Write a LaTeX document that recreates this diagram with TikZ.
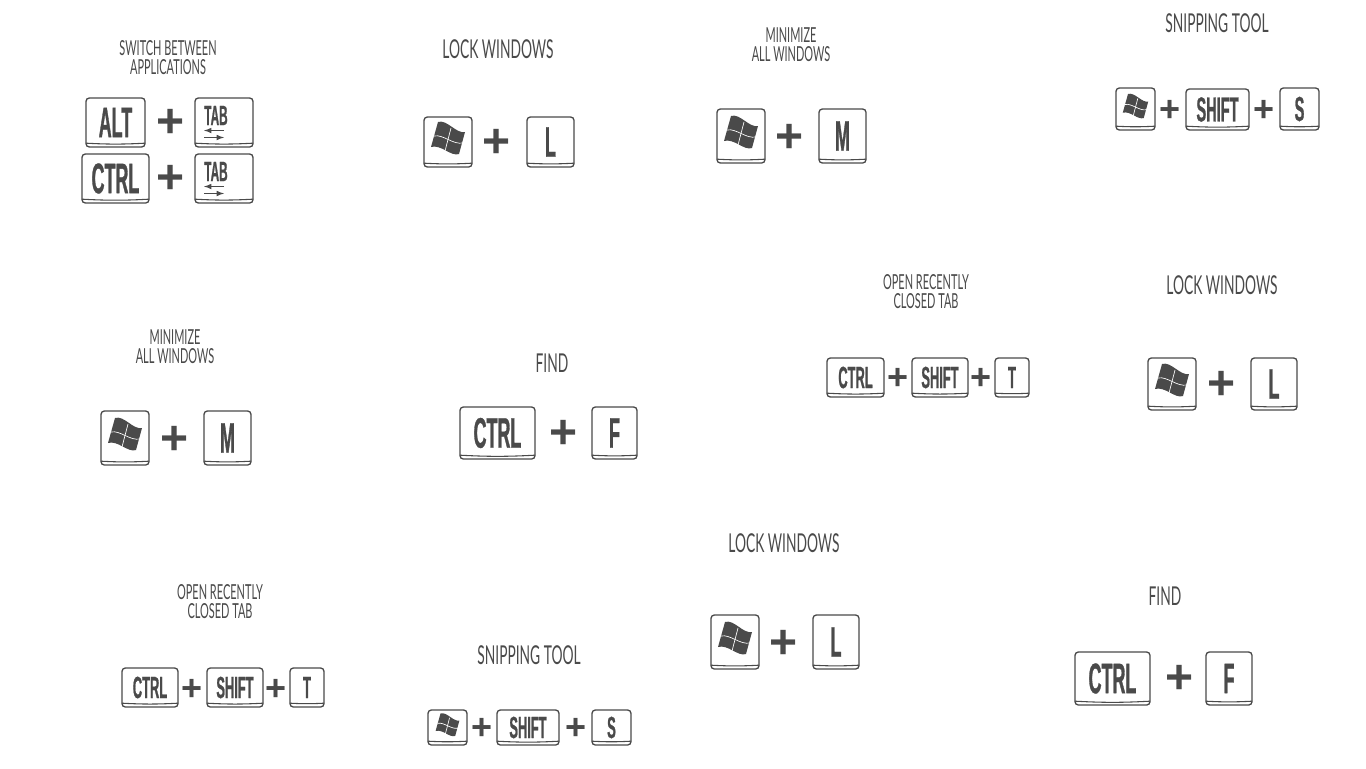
\documentclass[tikz,border=0pt]{standalone}
\usepackage{fontspec}
\usetikzlibrary{arrows}
\setmainfont{Liberation Sans}
\newfontfamily\titlefont[FakeStretch=0.53]{Lato}
\newfontfamily\capfont[FakeStretch=0.42,FakeBold=0.7]{Liberation Sans Bold}
\definecolor{keyink}{HTML}{4A4A4A}

% name, left, top, right, bottom, text style, text
\newcommand{\keycap}[7]{
  \pgfmathsetmacro{\kw}{(#4-#2)*0.75}
  \pgfmathsetmacro{\kh}{(#5-#3)*0.75}
  \node[keybox,#6,minimum width=\kw pt,minimum height=\kh pt](#1) at ({(#2+#4)/2},{(#3+#5)/2}){#7};
  \draw[lipline]($(#1.south west)+(0.5,-4.5)$) to[bend right=3]($(#1.south east)+(-0.5,-4.5)$);
}
\tikzset{
  winlogo/.pic={
    \fill[keyink](-10,-20) .. controls (-1,-23) and (8,-8) .. (17,-10) -- (11,12) .. controls (3,15) and (-7,2) .. (-17,5) -- cycle;
    \draw[white,line width=0.5pt](-14,-6) .. controls (-5,-8) and (5,3) .. (15,1);
    \draw[white,line width=0.5pt](3,-14) -- (-3,9);
  },
  tabmark/.pic={
    \node[font=\capfont\fontsize{21}{21}\selectfont,text=keyink,inner sep=0pt] (tabword) at (-8,-7){TAB};
    \draw[keyink,line width=0.9pt,-latex](0,8) -- (-20,8);
    \draw[keyink,line width=0.9pt,-latex](-20,15) -- (0,15);
  }
}
\usetikzlibrary{calc}

\begin{document}
\begin{tikzpicture}[x=0.75pt,y=-0.75pt]
\tikzstyle{keybox} = [draw=keyink,line width=1pt,rounded corners=2.5pt,inner sep=0pt,text=keyink]
\tikzstyle{lipline} = [draw=keyink,line width=0.8pt]
\tikzstyle{bigcap} = [font=\capfont\fontsize{32}{32}\selectfont]
\tikzstyle{midcap} = [font=\capfont\fontsize{26}{26}\selectfont]
\tikzstyle{smallcap} = [font=\capfont\fontsize{23}{23}\selectfont]
\tikzstyle{plusbig} = [font=\bfseries\fontsize{36}{36}\selectfont,text=keyink,inner sep=0pt]
\tikzstyle{plussmall} = [font=\bfseries\fontsize{27}{27}\selectfont,text=keyink,inner sep=0pt]
\tikzstyle{titlebig} = [font=\titlefont\fontsize{19.5}{21}\selectfont,text=keyink,align=center,inner sep=0pt]
\tikzstyle{titlesmall} = [font=\titlefont\fontsize{15.5}{14.2}\selectfont,text=keyink,align=center,inner sep=0pt]
\useasboundingbox[fill=white](0,0) rectangle (1366,768);

% top row
\node[titlesmall](t1) at (168,58){SWITCH BETWEEN\\APPLICATIONS};
\keycap{alt1}{86}{98}{145}{147}{bigcap}{ALT}
\node[plusbig](p1) at (171,123){+};
\keycap{tab1}{195}{98}{253}{147}{bigcap}{}
\pic at (tab1) {tabmark};
\keycap{ctrl1}{82}{154}{149}{203}{bigcap}{CTRL}
\node[plusbig](p2) at (171,179){+};
\keycap{tab2}{195}{154}{253}{203}{bigcap}{}
\pic at (tab2) {tabmark};

\node[titlebig](t2) at (498,49){LOCK WINDOWS};
\keycap{win2}{424}{117}{472}{167}{bigcap}{}
\pic at (win2) {winlogo};
\node[plusbig](p3) at (497,143){+};
\keycap{l2}{527}{117}{574}{167}{bigcap}{L}

\node[titlesmall](t3) at (791,44.5){MINIMIZE\\ALL WINDOWS};
\keycap{win3}{717}{109}{765}{163}{bigcap}{}
\pic at (win3) {winlogo};
\node[plusbig](p4) at (790,138){+};
\keycap{m3}{819}{109}{866}{163}{bigcap}{M}

\node[titlebig](t4) at (1217,23){SNIPPING TOOL};
\keycap{win4}{1116}{88}{1155}{130}{midcap}{}
\pic[scale=0.75] at (win4) {winlogo};
\node[plussmall](p5) at (1170,111){+};
\keycap{shift4}{1186}{89}{1249}{130}{midcap}{SHIFT}
\node[plussmall](p6) at (1264,111){+};
\keycap{s4}{1280}{88}{1319}{130}{midcap}{S}

% middle row
\node[titlesmall](t5) at (175,346.5){MINIMIZE\\ALL WINDOWS};
\keycap{win5}{101}{411}{149}{465}{bigcap}{}
\pic at (win5) {winlogo};
\node[plusbig](p7) at (175,440){+};
\keycap{m5}{204}{411}{251}{465}{bigcap}{M}

\node[titlebig](t6) at (552,363){FIND};
\keycap{ctrl6}{460}{407}{535}{459}{bigcap}{CTRL}
\node[plusbig](p8) at (564,434){+};
\keycap{f6}{592}{407}{637}{459}{bigcap}{F}

\node[titlesmall](t7) at (926,291.5){OPEN RECENTLY\\CLOSED TAB};
\keycap{ctrl7}{827}{358}{884}{397}{smallcap}{CTRL}
\node[plussmall](p9) at (898,379){+};
\keycap{shift7}{912}{358}{968}{397}{smallcap}{SHIFT}
\node[plussmall](p10) at (981,379){+};
\keycap{t7}{995}{358}{1029}{397}{smallcap}{T}

\node[titlebig](t8) at (1222,285){LOCK WINDOWS};
\keycap{win8}{1148}{358}{1196}{410}{bigcap}{}
\pic at (win8) {winlogo};
\node[plusbig](p11) at (1221,385){+};
\keycap{l8}{1251}{358}{1297}{410}{bigcap}{L}

% bottom row
\node[titlesmall](t9) at (220,601.5){OPEN RECENTLY\\CLOSED TAB};
\keycap{ctrl9}{122}{668}{178}{707}{smallcap}{CTRL}
\node[plussmall](p12) at (192,690){+};
\keycap{shift9}{207}{668}{263}{707}{smallcap}{SHIFT}
\node[plussmall](p13) at (276,690){+};
\keycap{t9}{290}{668}{324}{707}{smallcap}{T}

\node[titlebig](t10) at (529,655){SNIPPING TOOL};
\keycap{win10}{428}{710}{467}{745}{smallcap}{}
\pic[scale=0.7] at (win10) {winlogo};
\node[plussmall](p14) at (482,729){+};
\keycap{shift10}{497}{710}{559}{745}{smallcap}{SHIFT}
\node[plussmall](p15) at (576,729){+};
\keycap{s10}{592}{710}{631}{745}{smallcap}{S}

\node[titlebig](t11) at (784,543){LOCK WINDOWS};
\keycap{win11}{711}{615}{759}{669}{bigcap}{}
\pic at (win11) {winlogo};
\node[plusbig](p16) at (784,644){+};
\keycap{l11}{813}{615}{859}{669}{bigcap}{L}

\node[titlebig](t12) at (1165,596){FIND};
\keycap{ctrl12}{1075}{652}{1150}{705}{bigcap}{CTRL}
\node[plusbig](p17) at (1179,679){+};
\keycap{f12}{1206}{652}{1252}{705}{bigcap}{F}
\end{tikzpicture}
\end{document}
